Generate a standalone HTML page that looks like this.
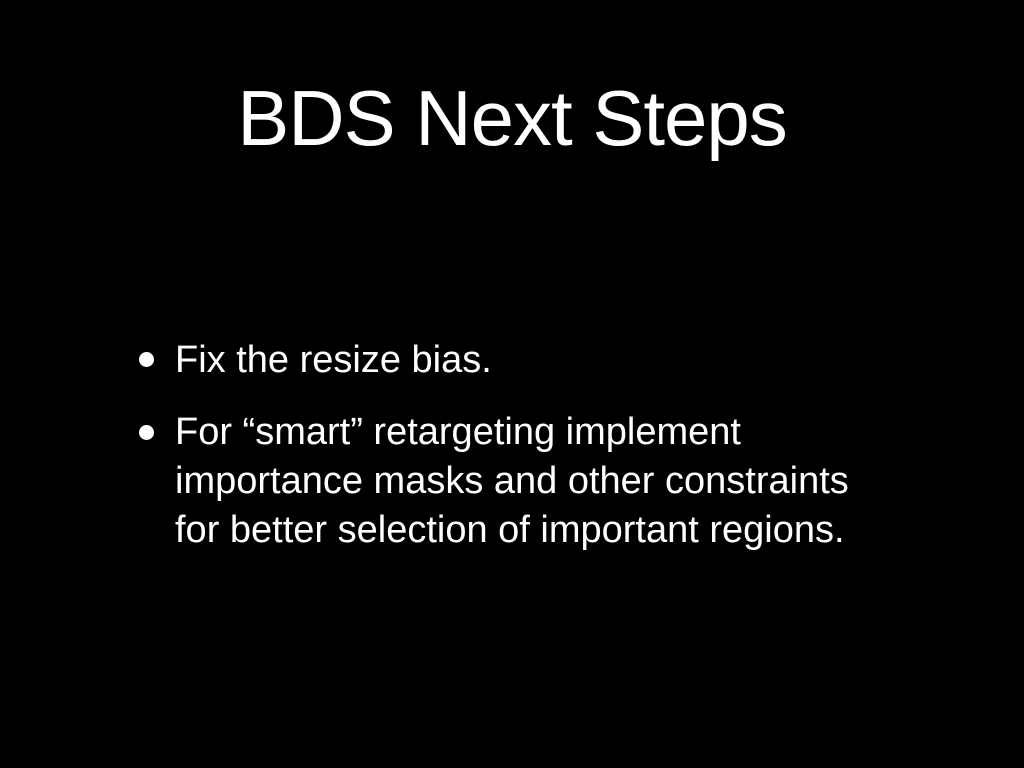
<!DOCTYPE html>
<html>
<head>
<meta charset="utf-8">
<style>
  html,body{margin:0;padding:0;background:#000;}
  #slide{position:relative;width:1024px;height:768px;background:#000;overflow:hidden;
    font-family:"Liberation Sans",sans-serif;color:#fff;}
  #title{position:absolute;left:0;top:73px;width:1024px;text-align:center;
    font-size:78px;line-height:90px;letter-spacing:-1px;}
  .line{position:absolute;left:175px;font-size:38px;line-height:48px;white-space:nowrap;}
  .dot{position:absolute;left:139px;width:15px;height:15px;border-radius:50%;background:#fff;}
</style>
</head>
<body>
<div id="slide">
  <div id="title">BDS Next Steps</div>

  <div class="dot" style="top:352px;"></div>
  <div class="line" style="top:336px;">Fix the resize bias.</div>

  <div class="dot" style="top:425px;"></div>
  <div class="line" style="top:408px;">For “smart” retargeting implement</div>
  <div class="line" style="top:457px;">importance masks and other constraints</div>
  <div class="line" style="top:506px;">for better selection of important regions.</div>
</div>
</body>
</html>
